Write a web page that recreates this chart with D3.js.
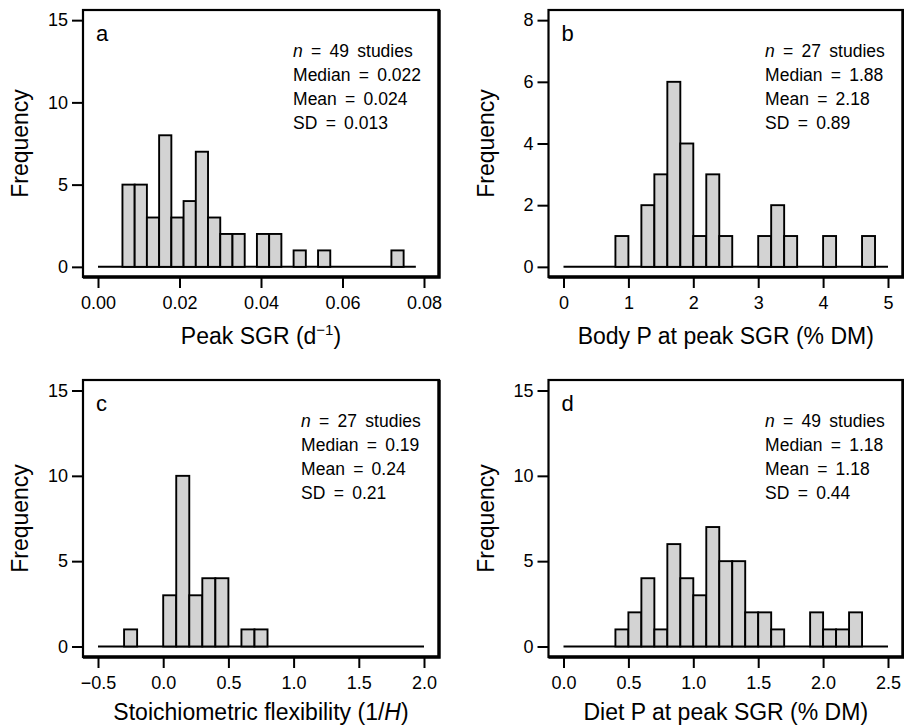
<!DOCTYPE html>
<html lang="en">
<head>
    <meta charset="UTF-8">
    <title>Histograms</title>
    <script src="https://d3js.org/d3.v7.min.js"></script>
    <style>
        body { margin: 0; background: #fff; }
        svg { display: block; font-family: "Liberation Sans", Arial, Helvetica, sans-serif; }
        .bar { fill: #d3d3d3; stroke: #000; stroke-width: 1.9px; }
        .frame { fill: none; stroke: #000; stroke-width: 2.2px; }
        .heavy { stroke: #000; stroke-width: 3.4px; }
        .base { stroke: #000; stroke-width: 2px; }
        .tick line { stroke: #000; stroke-width: 2px; }
        .tick text { font-size: 18px; fill: #000; }
        .domain { display: none; }
    </style>
</head>
<body>
    <svg width="904" height="728"></svg>

    <script>
        // a: peak SGR (bins of 0.003)
        const sgrLower = [0.006, 0.009, 0.012, 0.015, 0.018, 0.021, 0.024, 0.027, 0.030, 0.033, 0.039, 0.042, 0.048, 0.054, 0.072];
        const sgrCounts = [5, 5, 3, 8, 3, 4, 7, 3, 2, 2, 2, 2, 1, 1, 1];
        const sgrWidth = 0.003;
        const sgrTicks = [0, 0.02, 0.04, 0.06, 0.08];
        const sgrStats = ["49 studies", "Median = 0.022", "Mean = 0.024", "SD = 0.013"];

        // b: body P at peak SGR (bins of 0.2)
        const bodyLower = [0.8, 1.2, 1.4, 1.6, 1.8, 2.0, 2.2, 2.4, 3.0, 3.2, 3.4, 4.0, 4.6];
        const bodyCounts = [1, 2, 3, 6, 4, 1, 3, 1, 1, 2, 1, 1, 1];
        const bodyWidth = 0.2;
        const bodyTicks = [0, 1, 2, 3, 4, 5];
        const bodyStats = ["27 studies", "Median = 1.88", "Mean = 2.18", "SD = 0.89"];

        // c: stoichiometric flexibility (bins of 0.1)
        const flexLower = [-0.3, 0.0, 0.1, 0.2, 0.3, 0.4, 0.6, 0.7];
        const flexCounts = [1, 3, 10, 3, 4, 4, 1, 1];
        const flexWidth = 0.1;
        const flexTicks = [-0.5, 0, 0.5, 1, 1.5, 2];
        const flexStats = ["27 studies", "Median = 0.19", "Mean = 0.24", "SD = 0.21"];

        // d: diet P at peak SGR (bins of 0.1)
        const dietLower = [0.4, 0.5, 0.6, 0.7, 0.8, 0.9, 1.0, 1.1, 1.2, 1.3, 1.4, 1.5, 1.6, 1.9, 2.0, 2.1, 2.2];
        const dietCounts = [1, 2, 4, 1, 6, 4, 3, 7, 5, 5, 2, 2, 1, 2, 1, 1, 2];
        const dietWidth = 0.1;
        const dietTicks = [0, 0.5, 1, 1.5, 2, 2.5];
        const dietStats = ["49 studies", "Median = 1.18", "Mean = 1.18", "SD = 0.44"];

        const svg = d3.select("svg");
        const minus = s => s.replace("-", "\u2212");

        const panels = [
            { letter: "a", lower: sgrLower, counts: sgrCounts, width: sgrWidth, xTicks: sgrTicks,
              xFmt: d3.format(".2f"), base: [0, 0.078], yMax: 15, yTicks: [0, 5, 10, 15],
              stats: sgrStats, box: [83, 439, 10, 277], titleGap: 67, title: "sgr" },
            { letter: "b", lower: bodyLower, counts: bodyCounts, width: bodyWidth, xTicks: bodyTicks,
              xFmt: d3.format("d"), base: [0, 5], yMax: 8, yTicks: [0, 2, 4, 6, 8],
              stats: bodyStats, box: [548.5, 903, 10, 277], titleGap: 67, title: "Body P at peak SGR (% DM)" },
            { letter: "c", lower: flexLower, counts: flexCounts, width: flexWidth, xTicks: flexTicks,
              xFmt: d => minus(d3.format(".1f")(d)), base: [-0.5, 2], yMax: 15, yTicks: [0, 5, 10, 15],
              stats: flexStats, box: [83, 439, 380, 657], titleGap: 63, title: "flex" },
            { letter: "d", lower: dietLower, counts: dietCounts, width: dietWidth, xTicks: dietTicks,
              xFmt: d3.format(".1f"), base: [0, 2.5], yMax: 15, yTicks: [0, 5, 10, 15],
              stats: dietStats, box: [548.5, 903, 380, 657], titleGap: 63, title: "Diet P at peak SGR (% DM)" }
        ];

        panels.forEach(drawPanel);

        function drawPanel(p) {
            const [left, right, top, bottom] = p.box;
            const padY = (bottom - top) * 0.038;
            const x = d3.scaleLinear()
                .domain(d3.extent(p.xTicks))
                .range([left + 15, right - 15]);
            const y = d3.scaleLinear()
                .domain([0, p.yMax])
                .range([bottom - padY, top + padY]);

            const g = svg.append("g");

            // baseline at zero
            g.append("line")
                .attr("class", "base")
                .attr("x1", x(p.base[0])).attr("x2", x(p.base[1]))
                .attr("y1", y(0)).attr("y2", y(0));

            // bars
            g.selectAll("rect.bar")
                .data(p.lower.map((v, i) => ({ x0: v, x1: v + p.width, n: p.counts[i] })))
                .enter().append("rect")
                .attr("class", "bar")
                .attr("x", d => x(d.x0))
                .attr("width", d => x(d.x1) - x(d.x0))
                .attr("y", d => y(d.n))
                .attr("height", d => y(0) - y(d.n));

            // frame, a bit heavier on the right and bottom
            g.append("rect")
                .attr("class", "frame")
                .attr("x", left).attr("y", top)
                .attr("width", right - left).attr("height", bottom - top);
            g.append("path")
                .attr("class", "heavy")
                .attr("fill", "none")
                .attr("d", `M${right},${top}V${bottom}H${left}`);

            // axes
            g.append("g")
                .attr("transform", `translate(0,${bottom})`)
                .call(d3.axisBottom(x).tickValues(p.xTicks).tickFormat(p.xFmt)
                    .tickSizeInner(11).tickSizeOuter(0).tickPadding(8));
            g.append("g")
                .attr("transform", `translate(${left},0)`)
                .call(d3.axisLeft(y).tickValues(p.yTicks).tickFormat(d3.format("d"))
                    .tickSizeInner(11).tickSizeOuter(0).tickPadding(4));

            // panel letter
            g.append("text")
                .attr("x", left + 13).attr("y", top + 31)
                .attr("font-size", 22)
                .text(p.letter);

            // stats block, placed like a top-right legend
            const st = g.append("text")
                .attr("font-size", 17.5)
                .attr("word-spacing", 3.4);
            p.stats.forEach((s, i) => {
                const t = st.append("tspan")
                    .attr("x", 0).attr("dy", i === 0 ? 0 : 24);
                if (i === 0) {
                    t.append("tspan").attr("font-style", "italic").text("n");
                    t.append("tspan").text(" = " + s);
                } else {
                    t.text(s);
                }
            });
            const w = st.node().getBBox().width;
            st.attr("transform", `translate(${right - 18 - w},${top + 47})`);

            // y title
            g.append("text")
                .attr("transform", `translate(${left - 55},${(top + bottom) / 2}) rotate(-90)`)
                .attr("text-anchor", "middle")
                .attr("font-size", 23)
                .text("Frequency");

            // x title
            const xt = g.append("text")
                .attr("x", (left + right) / 2)
                .attr("y", bottom + p.titleGap)
                .attr("text-anchor", "middle")
                .attr("font-size", 23);
            if (p.title === "sgr") {
                xt.append("tspan").text("Peak SGR (d");
                xt.append("tspan").attr("font-size", 15).attr("dy", -9).text("\u22121");
                xt.append("tspan").attr("dy", 9).text(")");
            } else if (p.title === "flex") {
                xt.append("tspan").text("Stoichiometric flexibility (1/");
                xt.append("tspan").attr("font-style", "italic").text("H");
                xt.append("tspan").text(")");
            } else {
                xt.text(p.title);
            }
        }
    </script>
</body>
</html>
